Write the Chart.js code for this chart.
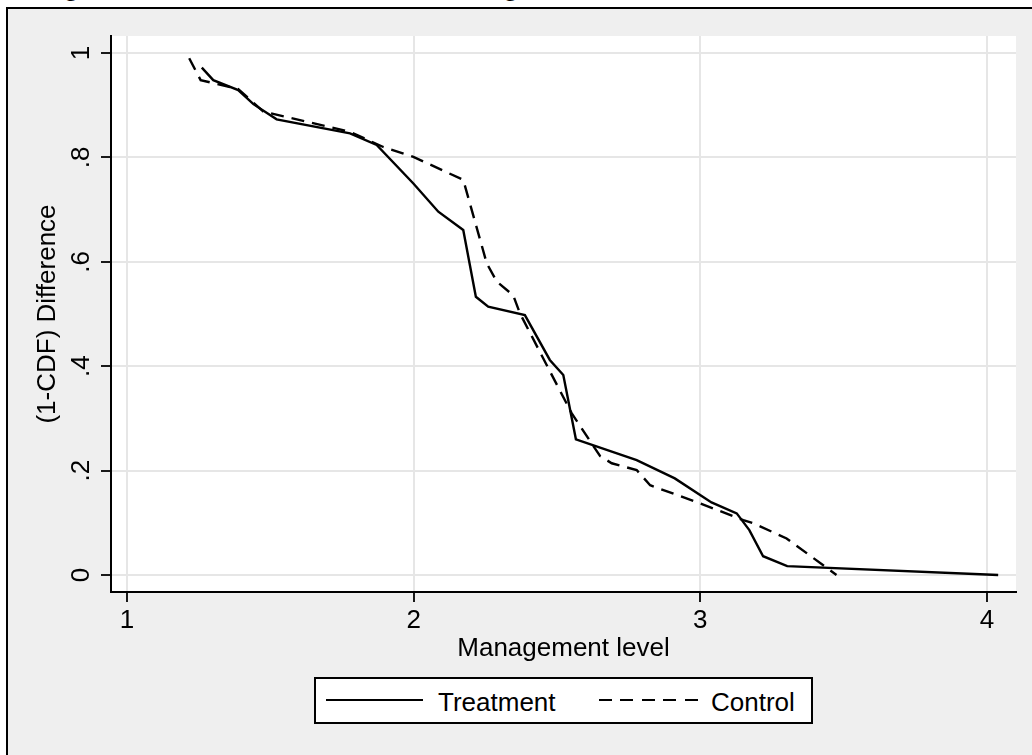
<!DOCTYPE html>
<html>
<head>
<meta charset="utf-8">
<script src="https://cdn.jsdelivr.net/npm/chart.js@4.4.1/dist/chart.umd.min.js"></script>
<style>
  html, body { margin: 0; padding: 0; background: #fff; width: 1032px; height: 755px; overflow: hidden; position: relative; }
  #caption { position: absolute; left: 45px; top: -24px; font: 24px/24px "Liberation Serif", "DejaVu Serif", serif; white-space: nowrap; color: #000; }
  #frame { position: absolute; left: 6px; top: 7px; width: 1100px; height: 800px; background: #efefef; border: 2px solid #000; }
  #chart { position: absolute; left: 0; top: 0; }
  #legend { position: absolute; left: 314px; top: 677px; width: 499px; height: 47px; box-sizing: border-box; border: 2px solid #000; background: #fff; font: 26px/43px "Liberation Sans", Arial, sans-serif; color: #000; }
  #legend .txt { position: absolute; top: 2px; white-space: nowrap; }
  #legend .solid { position: absolute; left: 10px; top: 20px; width: 97px; height: 2px; background: #000; }
  #legend .dash { position: absolute; left: 283px; top: 20px; width: 99px; height: 2px; background: repeating-linear-gradient(to right, #000 0 13px, transparent 13px 21.5px); }
</style>
</head>
<body>
<div id="caption">Figure 5: Treatment and Control Schools’ Management Level Distribution</div>
<div id="frame"></div>
<canvas id="chart" width="1032" height="755"></canvas>
<div id="legend">
  <div class="solid"></div><span class="txt" style="left:122px">Treatment</span>
  <div class="dash"></div><span class="txt" style="left:395px">Control</span>
</div>
<script>
// values
const treatX = [1.261, 1.301, 1.388, 1.441, 1.522, 1.778, 1.871, 1.999, 2.086, 2.173, 2.217, 2.260,
                2.388, 2.475, 2.522, 2.566, 2.778, 2.911, 3.039, 3.127, 3.171, 3.219, 3.303, 4.039];
const treatY = [0.972, 0.948, 0.929, 0.902, 0.873, 0.846, 0.824, 0.750, 0.696, 0.661, 0.533, 0.514,
                0.498, 0.412, 0.383, 0.260, 0.220, 0.185, 0.139, 0.118, 0.086, 0.036, 0.017, 0.000];
const ctrlX = [1.217, 1.257, 1.388, 1.475, 1.778, 1.894, 1.999, 2.173, 2.255, 2.290, 2.347, 2.371,
               2.551, 2.650, 2.691, 2.778, 2.825, 3.000, 3.150, 3.185, 3.301, 3.475];
const ctrlY = [0.990, 0.948, 0.931, 0.888, 0.849, 0.820, 0.801, 0.757, 0.597, 0.562, 0.536, 0.501,
               0.310, 0.228, 0.214, 0.201, 0.172, 0.137, 0.105, 0.099, 0.070, 0.000];
const xTicks = [1, 2, 3, 4];
const yTicks = [0, 0.2, 0.4, 0.6, 0.8, 1];
const yTickLabels = ["0", ".2", ".4", ".6", ".8", "1"];

const fontFam = '"Liberation Sans", Arial, sans-serif';
Chart.defaults.font.family = fontFam;
Chart.defaults.color = "#000";

const toPts = (xs, ys) => xs.map((x, i) => ({ x: x, y: ys[i] }));

// white plot region + rotated y tick labels (Stata style)
const stataBits = {
  id: "stataBits",
  beforeDraw(chart) {
    const a = chart.chartArea;
    const ctx = chart.ctx;
    ctx.save();
    ctx.fillStyle = "#fff";
    ctx.fillRect(a.left, a.top, a.right - a.left, a.bottom - a.top);
    ctx.restore();
  },
  afterDraw(chart) {
    const ctx = chart.ctx;
    const ys = chart.scales.y;
    ctx.save();
    ctx.font = "26px " + fontFam;
    ctx.fillStyle = "#000";
    ctx.textAlign = "center";
    ctx.textBaseline = "alphabetic";
    yTicks.forEach((v, i) => {
      ctx.save();
      ctx.translate(chart.chartArea.left - 22, ys.getPixelForValue(v));
      ctx.rotate(-Math.PI / 2);
      ctx.fillText(yTickLabels[i], 0, 0);
      ctx.restore();
    });
    ctx.restore();
  }
};

new Chart(document.getElementById("chart"), {
  type: "scatter",
  data: {
    datasets: [{
      label: "Treatment",
      data: toPts(treatX, treatY),
      showLine: true,
      borderColor: "#000",
      borderWidth: 2.4,
      pointRadius: 0,
      tension: 0
    }, {
      label: "Control",
      data: toPts(ctrlX, ctrlY),
      showLine: true,
      borderColor: "#000",
      borderWidth: 2.4,
      borderDash: [13, 8],
      pointRadius: 0,
      tension: 0
    }]
  },
  options: {
    responsive: false,
    animation: false,
    layout: { padding: { left: 0, top: 36, right: 16, bottom: 91 } },
    plugins: { legend: { display: false }, tooltip: { enabled: false } },
    scales: {
      x: {
        type: "linear",
        min: 0.9442,
        max: 4.1012,
        afterBuildTicks: s => { s.ticks = xTicks.map(v => ({ value: v })); },
        afterFit: s => { s.height = 72; },
        ticks: { padding: 3, font: { size: 26 }, color: "#000", callback: v => String(v) },
        grid: { color: "#e6e6e6", lineWidth: 2, tickColor: "#000", tickWidth: 1.8, tickLength: 10 },
        border: { color: "#000", width: 2 },
        title: { display: true, text: "Management level", font: { size: 26 }, color: "#000", padding: { top: 0, bottom: 0 } }
      },
      y: {
        type: "linear",
        min: -0.0326,
        max: 1.0326,
        afterBuildTicks: s => { s.ticks = yTicks.map(v => ({ value: v })); },
        afterFit: s => { s.width = 111; },
        ticks: { display: false },
        grid: { color: "#e6e6e6", lineWidth: 2, tickColor: "#000", tickWidth: 1.8, tickLength: 10 },
        border: { color: "#000", width: 2 },
        title: { display: true, text: "(1-CDF) Difference", font: { size: 26 }, color: "#000", padding: { top: 32, bottom: 0 } }
      }
    }
  },
  plugins: [stataBits]
});
</script>
</body>
</html>
